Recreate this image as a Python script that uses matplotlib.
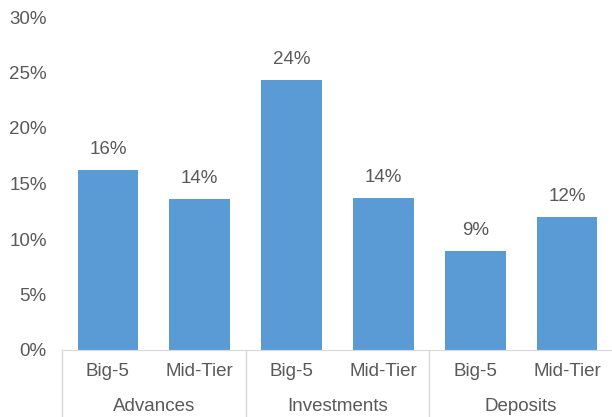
import numpy as np
import matplotlib.pyplot as plt
import matplotlib.transforms as mtransforms

plt.rcParams['font.family'] = ['Liberation Sans', 'DejaVu Sans']

groups = ['Advances', 'Investments', 'Deposits']
tiers = ['Big-5', 'Mid-Tier']
values = [16.2, 13.6, 24.3, 13.7, 8.9, 12.0]
value_labels = ['16%', '14%', '24%', '14%', '9%', '12%']
yticks = [0, 5, 10, 15, 20, 25, 30]

bar_color = '#5B9BD5'
text_color = '#595959'
line_color = '#D9D9D9'
fs = 13.5

fig = plt.figure(figsize=(6.12, 4.17), dpi=100)
ax = fig.add_axes([62 / 612, 67 / 417, 551 / 612, 333 / 417])

x = np.arange(len(values))
ax.bar(x, values, width=0.66, color=bar_color)
for xi, v, lab in zip(x, values, value_labels):
    ax.annotate(lab, (xi, v), xytext=(0, 8.5), textcoords='offset points',
                ha='center', va='bottom', fontsize=fs, color=text_color)

ax.set_xlim(-0.5, len(values) - 0.5)
ax.set_ylim(0, 30)
ax.set_yticks(yticks)
ax.set_yticklabels([f'{t}%' for t in yticks], fontsize=fs, color=text_color)
ax.tick_params(axis='y', length=0, pad=11)
ax.set_xticks([])
for s in ['top', 'right', 'left']:
    ax.spines[s].set_visible(False)
ax.spines['bottom'].set_color(line_color)

trans = mtransforms.blended_transform_factory(ax.transData, ax.transAxes)
for i in range(len(groups) + 1):
    ax.plot([i * 2 - 0.5, i * 2 - 0.5], [0, -0.21], transform=trans,
            color=line_color, lw=1, clip_on=False)
for xi in x:
    ax.text(xi, -0.065, tiers[xi % 2], transform=trans, ha='center', va='center',
            fontsize=fs, color=text_color)
for gi, g in enumerate(groups):
    ax.text(gi * 2 + 0.5, -0.17, g, transform=trans, ha='center', va='center',
            fontsize=fs, color=text_color)

fig.savefig('out.png', dpi=100)
